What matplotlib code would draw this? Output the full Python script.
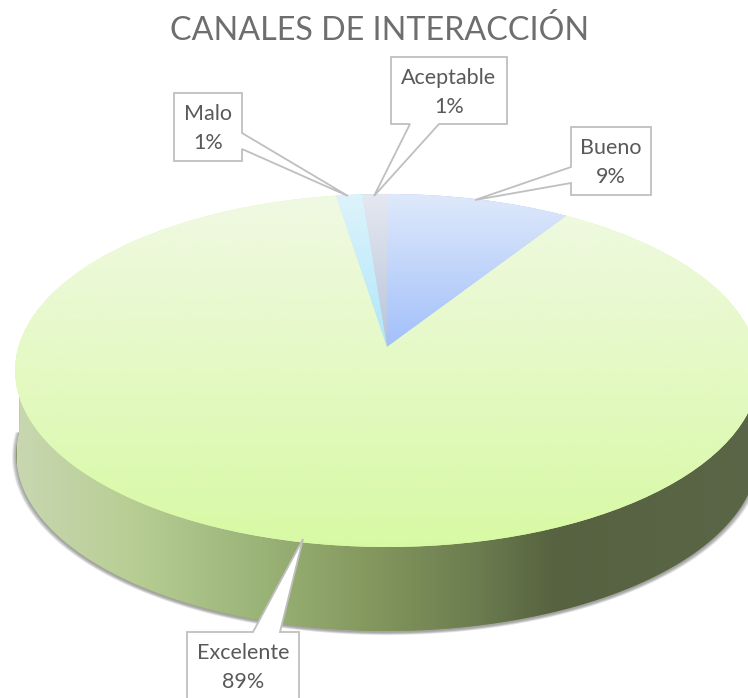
import numpy as np
import matplotlib
matplotlib.use('Agg')
import matplotlib.pyplot as plt
from matplotlib.colors import LinearSegmentedColormap
from matplotlib.patches import Polygon
from matplotlib.transforms import Transform

# datos, en sentido horario desde arriba
categorias = ['Bueno', 'Excelente', 'Malo', 'Aceptable']
valores = [9.1, 88.4, 1.3, 1.2]
etiquetas = ['9%', '89%', '1%', '1%']
titulo = 'CANALES DE INTERACCIÓN'

plt.rcParams['font.family'] = ['Lato', 'DejaVu Sans']

# degradados de cada sector (arriba, abajo)
colores = {
    'Bueno': ('#dfe9fb', '#a2c0fa'),
    'Excelente': ('#f0f9e3', '#d8f9a4'),
    'Malo': ('#def3fb', '#aee7fb'),
    'Aceptable': ('#e6e8f0', '#b6c4db'),
}
colores_lado = [(0.0, '#c8d7b0'), (0.15, '#b8ce95'), (0.33, '#9ab377'), (0.47, '#85995f'),
                (0.62, '#6c7d4f'), (0.73, '#566240'), (1.0, '#5b6648')]

# cajas de las etiquetas en pixeles: caja, dos puntos de la cola, punta
cajas = {
    'Malo': ((174, 93, 242, 161), (242, 133), (242, 149), (348, 196)),
    'Aceptable': ((391, 57, 507, 124), (410, 124), (439, 124), (374, 196)),
    'Bueno': ((571, 127, 651, 195), (571, 167), (571, 183), (475, 200)),
    'Excelente': ((187, 632, 299, 712), (253, 632), (280, 632), (303, 539)),
}


class Perspectiva(Transform):
    # pasa el circulo unidad a la elipse vista en perspectiva (pixeles)
    input_dims = 2
    output_dims = 2

    def __init__(self, cx, cy, a, b, k):
        super().__init__()
        self.cx, self.cy, self.a, self.b, self.k = cx, cy, a, b, k

    def transform_non_affine(self, values):
        values = np.asarray(values)
        w = 1 + self.k * values[:, 1]
        return np.column_stack([self.cx + self.a * values[:, 0] / w,
                                self.cy - self.b * values[:, 1] / w])


arriba = Perspectiva(387, 347, 368.6, 173.4, 0.133)
abajo = Perspectiva(387, 431, 367.5, 173.4, 0.133)

fig = plt.figure(figsize=(7.48, 6.98), dpi=100)
ax = fig.add_axes([0, 0, 1, 1])

wedges, _ = ax.pie(valores, startangle=90, counterclock=False, radius=1)
ax.set_aspect('auto')
ax.axis('off')

t = np.radians(np.linspace(180, 360, 200))
circulo = np.column_stack([np.cos(t), np.sin(t)])

# sombra
for i in range(9):
    borde = abajo.transform(circulo * (1 + 0.0014 * (8 - i))) + [0, 1.5]
    ax.add_patch(Polygon(borde, closed=True, fc='#666666', ec='none', alpha=0.09, zorder=1))

# lado del pastel
lado = Polygon(np.vstack([arriba.transform([[-1, 0]]), abajo.transform(circulo), arriba.transform([[1, 0]]),
                          arriba.transform([[0, 0]])]),
               closed=True, fc='#85995f', ec='none', zorder=2)
ax.add_patch(lado)
cmap_lado = LinearSegmentedColormap.from_list('lado', colores_lado)
im = ax.imshow(np.linspace(0, 1, 512).reshape(1, -1), extent=[17, 757, 640, 340], aspect='auto',
               cmap=cmap_lado, zorder=3)
im.set_clip_path(lado)

# cara superior, un degradado por sector
for w, cat in zip(wedges, categorias):
    w.set_transform(arriba + ax.transData)
    w.set_facecolor(colores[cat][1])
    w.set_edgecolor('none')
    w.set_zorder(4)
    w.set_clip_on(False)
    caja = w.get_path().transformed(w.get_patch_transform() + arriba).get_extents()
    cmap = LinearSegmentedColormap.from_list(cat, colores[cat])
    im = ax.imshow(np.linspace(0, 1, 256).reshape(-1, 1),
                   extent=[caja.x0, caja.x1, caja.y1, caja.y0], aspect='auto', cmap=cmap, zorder=5)
    im.set_clip_path(w)

ax.set_xlim(0, 748)
ax.set_ylim(698, 0)

# etiquetas con cola
for cat, pct in zip(categorias, etiquetas):
    (x0, y0, x1, y1), p1, p2, punta = cajas[cat]
    if p1[0] == x0:
        pts = [(x0, y0), (x1, y0), (x1, y1), (x0, y1), p2, punta, p1]
    elif p1[0] == x1:
        pts = [(x0, y0), (x1, y0), p1, punta, p2, (x1, y1), (x0, y1)]
    elif p1[1] == y1:
        pts = [(x0, y0), (x1, y0), (x1, y1), p2, punta, p1, (x0, y1)]
    else:
        pts = [(x0, y0), p1, punta, p2, (x1, y0), (x1, y1), (x0, y1)]
    ax.add_patch(Polygon(pts, closed=True, fc='white', ec='#bfbfbf', lw=1.3, zorder=6))
    xc = (x0 + x1) / 2
    yc = y0 + 35.5
    ax.text(xc, yc - 14.5, cat, ha='center', va='center', fontsize=15.5, color='#595959', zorder=7)
    ax.text(xc, yc + 14.5, pct, ha='center', va='center', fontsize=15.5, color='#595959', zorder=7)

ax.text(380, 30, titulo, ha='center', va='center', fontsize=23.2, color='#6e6e6e', zorder=7)

fig.savefig('out.png', dpi=100)
